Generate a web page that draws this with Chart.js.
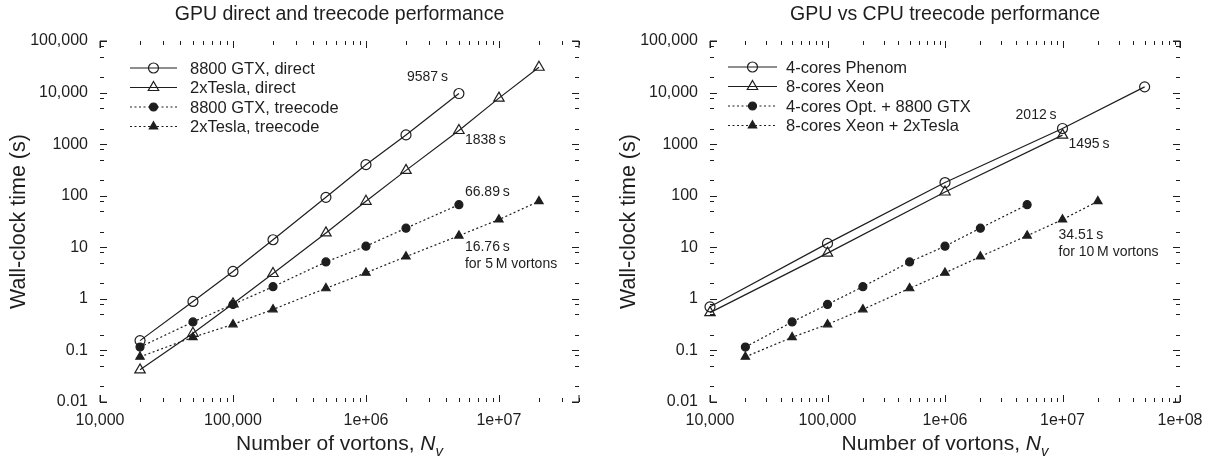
<!DOCTYPE html>
<html>
<head>
<meta charset="utf-8">
<script src="https://cdn.jsdelivr.net/npm/chart.js@4/dist/chart.umd.min.js"></script>
<style>
  html, body { margin: 0; padding: 0; background: #fff; }
  #wrap { position: relative; width: 1222px; height: 458px; }
  canvas { position: absolute; top: 0; }
  #leftChart { left: 0; }
  #rightChart { left: 610px; }
</style>
</head>
<body>
<div id="wrap">
  <canvas id="leftChart" width="610" height="458"></canvas>
  <canvas id="rightChart" width="612" height="458"></canvas>
</div>
<script>
// 왼쪽 그래프: GPU direct / treecode
const gtxDirectN = [2e4, 5e4, 1e5, 2e5, 5e5, 1e6, 2e6, 5e6];
const gtxDirectT = [0.155, 0.89, 3.4, 14, 93, 400, 1510, 9587];
const teslaDirectN = [2e4, 5e4, 1e5, 2e5, 5e5, 1e6, 2e6, 5e6, 1e7, 2e7];
const teslaDirectT = [0.042, 0.215, 0.8, 3.1, 19, 78, 310, 1838, 7800, 31000];
const gtxTreeN = [2e4, 5e4, 1e5, 2e5, 5e5, 1e6, 2e6, 5e6];
const gtxTreeT = [0.116, 0.357, 0.78, 1.72, 5.2, 10.5, 23.5, 66.89];
const teslaTreeN = [2e4, 5e4, 1e5, 2e5, 5e5, 1e6, 2e6, 5e6, 1e7, 2e7];
const teslaTreeT = [0.075, 0.18, 0.32, 0.625, 1.6, 3.2, 6.6, 16.76, 34.51, 78];

// 오른쪽 그래프: CPU vs GPU treecode (GPU 두 줄은 왼쪽 treecode 값과 같음)
const phenomN = [1e4, 1e5, 1e6, 1e7, 5e7];
const phenomT = [0.7, 11.9, 180, 2012, 12900];
const xeonN = [1e4, 1e5, 1e6, 1e7];
const xeonT = [0.54, 7.7, 118, 1495];

// 눈금 라벨
const yTickValues = [0.01, 0.1, 1, 10, 100, 1000, 1e4, 1e5];
const yTickLabels = ['0.01', '0.1', '1', '10', '100', '1000', '10,000', '100,000'];
const leftXTickValues = [1e4, 1e5, 1e6, 1e7];
const leftXTickLabels = ['10,000', '100,000', '1e+06', '1e+07'];
const rightXTickValues = [1e4, 1e5, 1e6, 1e7, 1e8];
const rightXTickLabels = ['10,000', '100,000', '1e+06', '1e+07', '1e+08'];

const ink = '#1e1e1e';
const family = '"Liberation Sans", Arial, Helvetica, sans-serif';
const solid = [];
const dotted = [2, 2.5];

function pts(xs, ys) {
  return xs.map((x, i) => ({ x: x, y: ys[i] }));
}

// 선 + 마커 스타일
function lineSet(label, xs, ys, marker, dash) {
  const open = marker.startsWith('open');
  const tri = marker.endsWith('Triangle');
  return {
    label: label,
    data: pts(xs, ys),
    borderColor: ink,
    borderWidth: 1.2,
    borderDash: dash,
    pointStyle: tri ? 'triangle' : 'circle',
    pointRadius: open ? (tri ? 6 : 5) : (tri ? 4.8 : 4),
    pointHoverRadius: 0,
    pointBorderWidth: 1.2,
    pointBorderColor: ink,
    pointBackgroundColor: open ? 'rgba(0,0,0,0)' : ink,
    fill: false,
    tension: 0,
    clip: false
  };
}

// 안쪽 눈금 + 모서리
const framePlugin = {
  id: 'frame',
  afterDraw(chart) {
    const { ctx, chartArea: a } = chart;
    const xs = chart.scales.x, ys = chart.scales.y;
    ctx.save();
    ctx.strokeStyle = ink;
    ctx.lineWidth = 1;
    const seg = (x0, y0, x1, y1) => {
      ctx.beginPath(); ctx.moveTo(x0, y0); ctx.lineTo(x1, y1); ctx.stroke();
    };
    for (let d = Math.floor(Math.log10(xs.min)); d <= Math.ceil(Math.log10(xs.max)); d++) {
      for (let m = 1; m <= 9; m++) {
        const v = m * Math.pow(10, d);
        if (v < xs.min * 0.999 || v > xs.max * 1.001) continue;
        const px = Math.round(xs.getPixelForValue(v)) + 0.5;
        const len = m === 1 ? 7 : 4;
        seg(px, a.bottom, px, a.bottom - len);
        seg(px, a.top, px, a.top + len);
      }
    }
    for (let d = Math.floor(Math.log10(ys.min)); d <= Math.ceil(Math.log10(ys.max)); d++) {
      [1, 2, 5, 8].forEach(m => {
        const v = m * Math.pow(10, d);
        if (v < ys.min * 0.999 || v > ys.max * 1.001) return;
        const py = Math.round(ys.getPixelForValue(v)) + 0.5;
        const len = m === 1 ? 7 : 4;
        seg(a.left, py, a.left + len, py);
        seg(a.right, py, a.right - len, py);
      });
    }
    // 모서리 꺾쇠
    const c = 7;
    seg(a.left, a.top, a.left + c, a.top); seg(a.left, a.top, a.left, a.top + c);
    seg(a.right, a.top, a.right - c, a.top); seg(a.right, a.top, a.right, a.top + c);
    seg(a.left, a.bottom, a.left + c, a.bottom); seg(a.left, a.bottom, a.left, a.bottom - c);
    seg(a.right, a.bottom, a.right - c, a.bottom); seg(a.right, a.bottom, a.right, a.bottom - c);
    ctx.restore();
  }
};

function drawMarker(ctx, ds, x, y) {
  const r = ds.pointRadius;
  ctx.beginPath();
  if (ds.pointStyle === 'triangle') {
    for (let k = 0; k < 3; k++) {
      const ang = k * 2 * Math.PI / 3;
      const px = x + Math.sin(ang) * r, py = y - Math.cos(ang) * r;
      if (k === 0) ctx.moveTo(px, py); else ctx.lineTo(px, py);
    }
    ctx.closePath();
  } else {
    ctx.arc(x, y, r, 0, Math.PI * 2);
  }
  ctx.fillStyle = ds.pointBackgroundColor;
  ctx.fill();
  ctx.lineWidth = ds.pointBorderWidth;
  ctx.strokeStyle = ink;
  ctx.stroke();
}

// 제목, 범례, 주석, x축 제목
const decorPlugin = {
  id: 'decor',
  afterDraw(chart, args, opts) {
    const { ctx, chartArea: a } = chart;
    const xs = chart.scales.x, ys = chart.scales.y;
    const cx = (a.left + a.right) / 2;
    ctx.save();
    // 제목 (플롯 영역 가운데)
    ctx.fillStyle = ink;
    ctx.font = '19.5px ' + family;
    ctx.textAlign = 'center';
    ctx.textBaseline = 'middle';
    ctx.fillText(opts.title, cx, 15);
    // 범례
    const lg = opts.legend;
    chart.data.datasets.forEach((ds, i) => {
      const y = lg.top + i * lg.gap;
      ctx.save();
      ctx.strokeStyle = ink;
      ctx.lineWidth = 1.2;
      ctx.setLineDash(ds.borderDash);
      ctx.beginPath();
      ctx.moveTo(a.left + lg.x0, y);
      ctx.lineTo(a.left + lg.x1, y);
      ctx.stroke();
      ctx.setLineDash([]);
      drawMarker(ctx, ds, a.left + (lg.x0 + lg.x1) / 2, y);
      ctx.restore();
      ctx.fillStyle = ink;
      ctx.font = '16.5px ' + family;
      ctx.textAlign = 'left';
      ctx.textBaseline = 'middle';
      ctx.fillText(ds.label, a.left + lg.text, y + 1);
    });
    // 값 주석
    ctx.font = '14px ' + family;
    ctx.fillStyle = ink;
    ctx.textBaseline = 'middle';
    opts.notes.forEach(n => {
      const px = xs.getPixelForValue(n.x) + n.dx;
      const py = ys.getPixelForValue(n.y) + n.dy;
      ctx.textAlign = n.align;
      n.lines.forEach((t, k) => ctx.fillText(t, px, py + k * 17));
    });
    // x축 제목: Number of vortons, N_v
    const main = 'Number of vortons, ';
    const base = 450;
    ctx.textAlign = 'left';
    ctx.textBaseline = 'alphabetic';
    ctx.font = '21px ' + family;
    const w1 = ctx.measureText(main).width;
    ctx.font = 'italic 21px ' + family;
    const w2 = ctx.measureText('N').width;
    ctx.font = 'italic 15px ' + family;
    const w3 = ctx.measureText('v').width;
    let x = cx - (w1 + w2 + w3) / 2;
    ctx.font = '21px ' + family;
    ctx.fillText(main, x, base);
    x += w1;
    ctx.font = 'italic 21px ' + family;
    ctx.fillText('N', x, base);
    x += w2;
    ctx.font = 'italic 15px ' + family;
    ctx.fillText('v', x, base + 6);
    ctx.restore();
  }
};

function makeChart(id, title, datasets, xMax, xVals, xLabels, rightPad, legend, notes) {
  return new Chart(document.getElementById(id), {
    type: 'line',
    data: { datasets: datasets },
    options: {
      responsive: false,
      animation: false,
      events: [],
      layout: { padding: { left: 0, right: rightPad, top: 41, bottom: 0 } },
      plugins: {
        legend: { display: false },
        tooltip: { enabled: false },
        title: { display: false },
        decor: { title: title, legend: legend, notes: notes }
      },
      scales: {
        x: {
          type: 'logarithmic', min: 1e4, max: xMax,
          border: { display: false },
          grid: { display: false, drawTicks: false },
          ticks: {
            padding: 9, color: ink, autoSkip: false, maxRotation: 0,
            font: { family: family, size: 16 },
            callback: (v, i) => xLabels[i]
          },
          afterBuildTicks: s => { s.ticks = xVals.map(v => ({ value: v })); },
          afterFit: s => { s.height = 56; }
        },
        y: {
          type: 'logarithmic', min: 0.01, max: 1e5,
          border: { display: false },
          grid: { display: false, drawTicks: false },
          ticks: {
            padding: 12, color: ink, autoSkip: false,
            font: { family: family, size: 16 },
            callback: (v, i) => yTickLabels[i]
          },
          title: {
            display: true, text: 'Wall-clock time (s)', color: ink,
            font: { family: family, size: 21.5 },
            padding: { top: 6, bottom: 0 }
          },
          afterBuildTicks: s => { s.ticks = yTickValues.map(v => ({ value: v })); },
          afterFit: s => { s.width = 100; }
        }
      }
    },
    plugins: [framePlugin, decorPlugin]
  });
}

makeChart('leftChart', 'GPU direct and treecode performance', [
  lineSet('8800 GTX, direct', gtxDirectN, gtxDirectT, 'openCircle', solid),
  lineSet('2xTesla, direct', teslaDirectN, teslaDirectT, 'openTriangle', solid),
  lineSet('8800 GTX, treecode', gtxTreeN, gtxTreeT, 'fillCircle', dotted),
  lineSet('2xTesla, treecode', teslaTreeN, teslaTreeT, 'fillTriangle', dotted)
], 4e7, leftXTickValues, leftXTickLabels, 31,
  { x0: 30, x1: 77, text: 90, top: 68, gap: 19.5 },
  [
    { x: 5e6, y: 9587, dx: -11, dy: -16, align: 'right', lines: ['9587\u2009s'] },
    { x: 5e6, y: 1838, dx: 6, dy: 10, align: 'left', lines: ['1838\u2009s'] },
    { x: 5e6, y: 66.89, dx: 6, dy: -13, align: 'left', lines: ['66.89\u2009s'] },
    { x: 5e6, y: 16.76, dx: 6, dy: 11, align: 'left', lines: ['16.76\u2009s', 'for 5\u2009M vortons'] }
  ]);

makeChart('rightChart', 'GPU vs CPU treecode performance', [
  lineSet('4-cores Phenom', phenomN, phenomT, 'openCircle', solid),
  lineSet('8-cores Xeon', xeonN, xeonT, 'openTriangle', solid),
  lineSet('4-cores Opt. + 8800 GTX', gtxTreeN, gtxTreeT, 'fillCircle', dotted),
  lineSet('8-cores Xeon + 2xTesla', teslaTreeN, teslaTreeT, 'fillTriangle', dotted)
], 1e8, rightXTickValues, rightXTickLabels, 42,
  { x0: 18, x1: 67, text: 76, top: 67, gap: 19.5 },
  [
    { x: 1e7, y: 2012, dx: -6, dy: -13, align: 'right', lines: ['2012\u2009s'] },
    { x: 1e7, y: 1495, dx: 6, dy: 9, align: 'left', lines: ['1495\u2009s'] },
    { x: 1e7, y: 34.51, dx: -4, dy: 15.5, align: 'left', lines: ['34.51\u2009s', 'for 10\u2009M vortons'] }
  ]);
</script>
</body>
</html>
